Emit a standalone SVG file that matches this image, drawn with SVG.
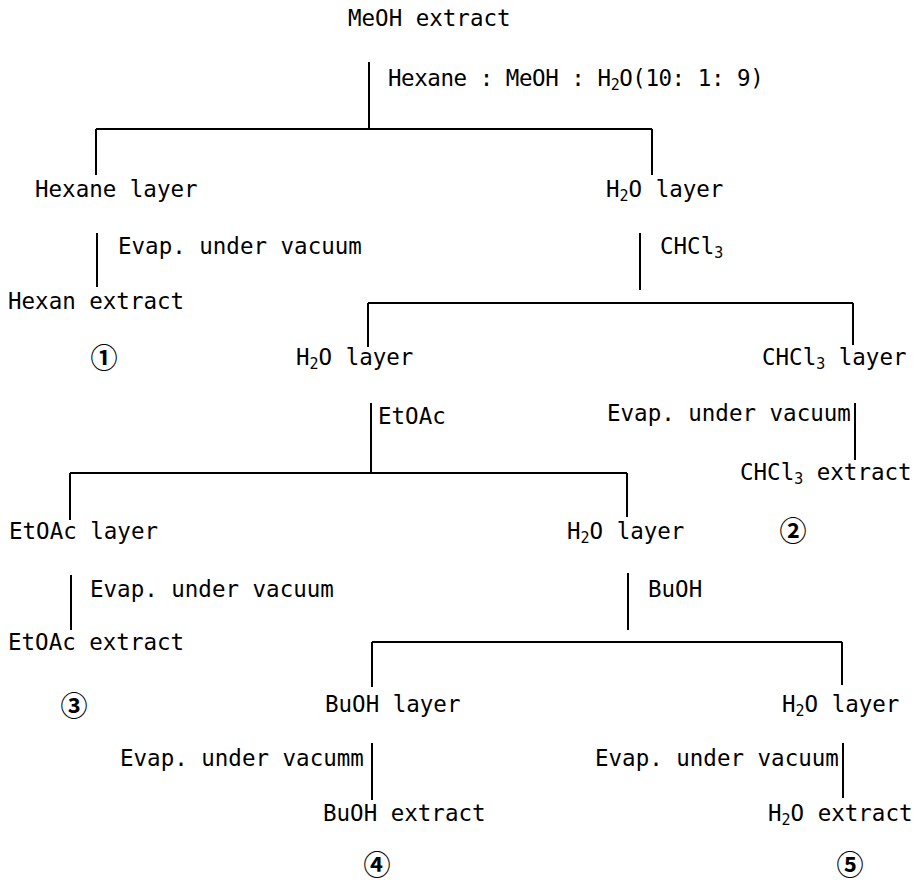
<svg xmlns="http://www.w3.org/2000/svg" width="914" height="883" viewBox="0 0 914 883">
<style>
.t{font-family:"DejaVu Sans Mono","Liberation Mono",monospace;font-size:22.5px;fill:#000}
.s{font-size:15px}
.c{font-family:"Noto Sans CJK KR","DejaVu Sans",sans-serif;font-size:27px;font-weight:700;fill:#000;text-anchor:middle}
.ln{stroke:#000;stroke-width:2;fill:none}
</style>
<rect width="914" height="883" fill="#fff"/>
<g id="connectors" class="ln">
<path d="M369 62V129M96 129H652M96 129V175M652 129V175"/>
<path d="M97 233V287"/>
<path d="M640 233V290M368 303H853M368 303V347M853 303V345"/>
<path d="M855 403V460"/>
<path d="M371 403V472M70 473H627M70 473V520M627 473V517"/>
<path d="M71 575V630"/>
<path d="M628 573V630M372 642H842M372 642V687M842 642V685"/>
<path d="M372 743V800"/>
<path d="M843 743V798"/>
</g>
<g id="edge-labels">
<text class="t" x="388" y="86" letter-spacing="-0.45">Hexane : MeOH : H<tspan class="s" dy="4">2</tspan><tspan dy="-4">O(10: 1: 9)</tspan></text>
<text class="t" x="118" y="254">Evap. under vacuum</text>
<text class="t" x="660" y="254">CHCl<tspan class="s" dy="4">3</tspan></text>
<text class="t" x="378" y="424">EtOAc</text>
<text class="t" x="607" y="421">Evap. under vacuum</text>
<text class="t" x="90" y="597">Evap. under vacuum</text>
<text class="t" x="648" y="597">BuOH</text>
<text class="t" x="120" y="766">Evap. under vacumm</text>
<text class="t" x="595" y="766">Evap. under vacuum</text>
</g>
<g id="n-meoh"><text class="t" x="348" y="26">MeOH extract</text></g>
<g id="n-hexane-layer"><text class="t" x="35" y="197">Hexane layer</text></g>
<g id="n-h2o-layer-1"><text class="t" x="606" y="197">H<tspan class="s" dy="4">2</tspan><tspan dy="-4">O layer</tspan></text></g>
<g id="n-hexan-extract"><text class="t" x="8" y="309">Hexan extract</text></g>
<g id="n-1"><text class="c" x="104" y="368">①</text></g>
<g id="n-h2o-layer-2"><text class="t" x="296" y="365">H<tspan class="s" dy="4">2</tspan><tspan dy="-4">O layer</tspan></text></g>
<g id="n-chcl3-layer"><text class="t" x="762" y="365">CHCl<tspan class="s" dy="4">3</tspan><tspan dy="-4"> layer</tspan></text></g>
<g id="n-chcl3-extract"><text class="t" x="740" y="480">CHCl<tspan class="s" dy="4">3</tspan><tspan dy="-4"> extract</tspan></text></g>
<g id="n-etoac-layer"><text class="t" x="9" y="539">EtOAc layer</text></g>
<g id="n-h2o-layer-3"><text class="t" x="567" y="539">H<tspan class="s" dy="4">2</tspan><tspan dy="-4">O layer</tspan></text></g>
<g id="n-2"><text class="c" x="793" y="541">②</text></g>
<g id="n-etoac-extract"><text class="t" x="8" y="650">EtOAc extract</text></g>
<g id="n-3"><text class="c" x="74" y="716">③</text></g>
<g id="n-buoh-layer"><text class="t" x="325" y="712">BuOH layer</text></g>
<g id="n-h2o-layer-4"><text class="t" x="782" y="712">H<tspan class="s" dy="4">2</tspan><tspan dy="-4">O layer</tspan></text></g>
<g id="n-buoh-extract"><text class="t" x="323" y="821">BuOH extract</text></g>
<g id="n-h2o-extract"><text class="t" x="768" y="821">H<tspan class="s" dy="4">2</tspan><tspan dy="-4">O extract</tspan></text></g>
<g id="n-4"><text class="c" x="377" y="875">④</text></g>
<g id="n-5"><text class="c" x="850" y="875">⑤</text></g>
</svg>
